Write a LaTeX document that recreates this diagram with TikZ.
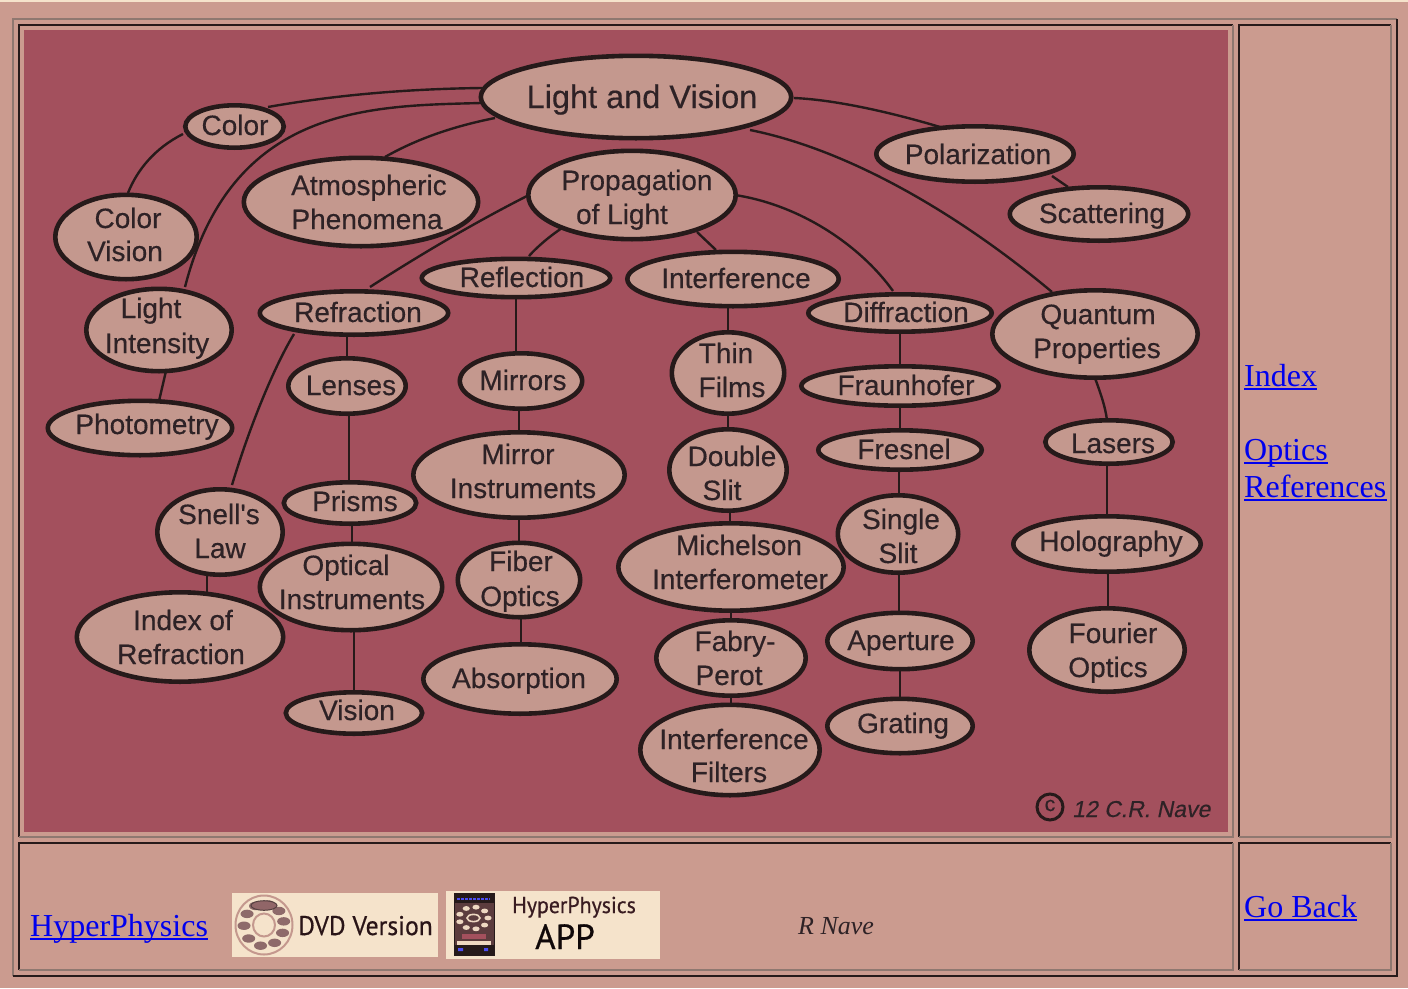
\documentclass[tikz,border=0pt]{standalone}
\usepackage{fontspec}
\usepackage{graphicx}
\usetikzlibrary{shapes.geometric}
\setmainfont{Liberation Sans}
\newfontfamily\bubf[FakeBold=0.4]{Liberation Sans}
\newfontfamily\bubi[FakeBold=0.4,FakeSlant=0.2]{Liberation Sans}
\newfontfamily\timesf{Liberation Serif}
\newfontfamily\iconf[FakeBold=0.6]{PT Sans}
\definecolor{pagebg}{HTML}{CB9B8F}
\definecolor{cream}{HTML}{F5E3CB}
\definecolor{plate}{HTML}{A3505D}
\definecolor{bubfill}{HTML}{C4988E}
\definecolor{ink}{HTML}{261A1A}
\definecolor{txt}{HTML}{2E2226}
\definecolor{edgegray}{HTML}{8F7870}
\definecolor{linkblue}{HTML}{0000EE}
\definecolor{blob}{HTML}{8E6A6A}
\definecolor{phone}{HTML}{5C3C3E}
\pgfdeclarelayer{edges}
\pgfdeclarelayer{base}
\pgfsetlayers{base,edges,main}
\newcounter{txtc}
\tikzset{
  bubble/.style={ellipse,draw=ink,fill=bubfill,line width=4.6pt,inner sep=0pt,outer sep=0pt},
  bubtext/.style={anchor=base,inner sep=0pt,text=txt,font=\bubf\fontsize{28}{34}\selectfont},
  conn/.style={draw=ink,line width=2.4pt},
  linktext/.style={anchor=base west,inner sep=0pt,text=linkblue,font=\timesf\fontsize{32}{36}\selectfont},
  linkline/.style={draw=linkblue,line width=2.4pt},
  lightline/.style={draw=edgegray,line width=2pt},
  darkline/.style={draw=ink,line width=2pt},
}
\newcommand{\bub}[6][0]{\node[bubble,rotate=#1,minimum width=#5pt-4.6pt,minimum height=#6pt-4.6pt] (#2) at (#3,#4) {};}
\newcommand{\txt}[3]{\stepcounter{txtc}\node[bubtext] (t\arabic{txtc}) at (#1,#2+9) {#3};}
\newcommand{\vl}[3]{\draw[conn] (#1.center -| #3,0) -- (#2.center -| #3,0);}
\newcommand{\cell}[4]{%
  \draw[darkline] (#1,#4) -- (#1,#2) -- (#3,#2);
  \draw[lightline] (#3,#2) -- (#3,#4) -- (#1,#4);}
\newcommand{\lnk}[4]{\node[linktext] (#1) at (#2,#3) {#4};
  \draw[linkline] ([yshift=-3.2pt]#1.base west) -- ([yshift=-3.2pt]#1.base east);}
\begin{document}
\begin{tikzpicture}[x=1pt,y=-1pt]
\useasboundingbox (0,0) rectangle (1408,988);
\begin{pgfonlayer}{base}
\fill[pagebg] (0,0) rectangle (1408,988);
\fill[cream] (0,0) rectangle (1408,2);
\draw[lightline] (13,976) -- (13,19) -- (1397,19);
\draw[darkline] (1397,19) -- (1397,976) -- (13,976);
\cell{19}{25}{1233}{837}
\cell{1239}{25}{1391}{837}
\cell{19}{843}{1233}{970}
\cell{1239}{843}{1391}{970}
\fill[plate] (24,30) rectangle (1228,832);
\end{pgfonlayer}

% bubbles
\bub{lv}{636}{97}{315}{87}
\stepcounter{txtc}\node[bubtext,font=\bubf\fontsize{32.5}{36}\selectfont] (t0) at (642,108) {Light and Vision};
\bub{color}{234.5}{126.5}{103}{47} \txt{235}{126}{Color}
\bub{cvis}{126}{237}{146}{89} \txt{128}{219}{Color} \txt{125}{252}{Vision}
\bub{atm}{361}{202}{239}{93} \txt{369}{186}{Atmospheric} \txt{367}{220}{Phenomena}
\bub{prop}{632}{195}{212}{93} \txt{637}{181}{Propagation} \txt{622}{215}{of Light}
\bub{pol}{975}{154}{202}{60} \txt{978}{155}{Polarization}
\bub{scat}{1099}{214}{183}{58} \txt{1102}{214}{Scattering}
\bub{lint}{159}{330}{150}{87} \txt{151}{309}{Light} \txt{157}{344}{Intensity}
\bub{refl}{516}{278}{193}{43} \txt{522}{278}{Reflection}
\bub{intf}{733}{279}{216}{59} \txt{736}{279}{Interference}
\bub{refr}{354}{313}{193}{48} \txt{358}{313}{Refraction}
\bub{diff}{900}{313}{188}{42} \txt{906}{313}{Diffraction}
\bub{qp}{1095}{334}{210}{92} \txt{1098}{315}{Quantum} \txt{1097}{349}{Properties}
\bub{lens}{347}{386}{122}{60} \txt{351}{386}{Lenses}
\bub{mirr}{521}{381}{127}{60} \txt{523}{381}{Mirrors}
\bub{thin}{728}{373}{117}{86} \txt{726}{354}{Thin} \txt{732}{388}{Films}
\bub{frau}{900}{386}{202}{44} \txt{906}{386}{Fraunhofer}
\bub{phot}{140}{428}{189}{59} \txt{147}{425}{Photometry}
\bub{las}{1109}{442}{132}{48} \txt{1113}{444}{Lasers}
\bub{fres}{900}{450}{168}{44} \txt{904}{450}{Fresnel}
\bub{mins}{519}{475}{216}{90} \txt{518}{455}{Mirror} \txt{523}{489}{Instruments}
\bub{dbl}{728}{470}{122}{86} \txt{732}{457}{Double} \txt{722}{491}{Slit}
\bub{holo}{1107}{544}{192}{60} \txt{1111}{542}{Holography}
\bub{single}{898}{534}{125}{82} \txt{901}{520}{Single} \txt{898}{554}{Slit}
\bub{prism}{350}{503}{137}{46} \txt{355}{502}{Prisms}
\bub{mich}{731}{567}{230}{92} \txt{739}{546}{Michelson} \txt{740}{580}{Interferometer}
\bub{idx}{180}{637}{211}{94} \txt{183}{621}{Index of} \txt{181}{655}{Refraction}
\bub{snell}{220}{532}{130}{90} \txt{219}{515}{Snell's} \txt{220}{549}{Law}
\bub{opt}{351}{587}{187}{91} \txt{346}{566}{Optical} \txt{352}{600}{Instruments}
\bub{fib}{519}{580}{127}{79} \txt{521}{562}{Fiber} \txt{520}{597}{Optics}
\bub{fab}{731}{658}{154}{80} \txt{735}{642}{Fabry-} \txt{729}{676}{Perot}
\bub{apt}{900}{641}{150}{61} \txt{901}{641}{Aperture}
\bub{four}{1107}{650}{160}{88} \txt{1113}{634}{Fourier} \txt{1108}{668}{Optics}
\bub{abs}{520}{679}{198}{74} \txt{519}{679}{Absorption}
\bub{vis}{354}{713}{141}{46} \txt{357}{711}{Vision}
\bub{filt}{730}{750}{184}{95} \txt{734}{740}{Interference} \txt{729}{773}{Filters}
\bub{grat}{900}{726}{150}{59} \txt{903}{724}{Grating}

% connectors
\begin{pgfonlayer}{edges}
\draw[conn] ([shift={(-154,-9)}]lv.center) .. controls (400,89) and (330,96) .. ([shift={(33.5,-19.5)}]color.center);
\draw[conn] ([shift={(-155,6)}]lv.center) .. controls (370,106) and (232,105) .. ([shift={(26,-43)}]lint.center);
\draw[conn] ([shift={(-141,21)}]lv.center) .. controls (450,127) and (415,140) .. ([shift={(24,-45)}]atm.center);
\draw[conn] ([shift={(-51.5,7.5)}]color.center) .. controls (155,148) and (137,170) .. ([shift={(2,-44)}]cvis.center);
\draw[conn] ([shift={(158,1)}]lv.center) .. controls (840,100) and (900,115) .. ([shift={(-35,-27)}]pol.center);
\draw[conn] ([shift={(114,33)}]lv.center) .. controls (850,150) and (960,215) .. ([shift={(-43,-42)}]qp.center);
\draw[conn] ([shift={(77,22)}]pol.center) -- ([shift={(-31,-27)}]scat.center);
\draw[conn] ([shift={(-105,1)}]prop.center) .. controls (470,225) and (415,258) .. ([shift={(16,-26)}]refr.center);
\draw[conn] ([shift={(-70,33)}]prop.center) .. controls (550,236) and (538,246) .. ([shift={(13,-22)}]refl.center);
\draw[conn] ([shift={(65,37)}]prop.center) -- ([shift={(-17,-29)}]intf.center);
\draw[conn] ([shift={(103,0)}]prop.center) .. controls (800,205) and (860,245) .. ([shift={(-7,-22)}]diff.center);
\draw[conn] ([shift={(-60,21)}]refr.center) .. controls (275,365) and (250,425) .. ([shift={(12,-47)}]snell.center);
\draw[conn] ([shift={(7,41)}]lint.center) -- ([shift={(19,-27)}]phot.center);
\draw[conn] ([shift={(0,44)}]qp.center) .. controls (1100,392) and (1105,405) .. ([shift={(-2,-22)}]las.center);
\vl{refl}{mirr}{516}
\vl{mirr}{mins}{519}
\vl{mins}{fib}{519}
\vl{fib}{abs}{521}
\vl{refr}{lens}{347}
\vl{lens}{prism}{349}
\vl{prism}{opt}{352}
\vl{opt}{vis}{354}
\vl{snell}{idx}{207}
\vl{intf}{thin}{728}
\vl{thin}{dbl}{728}
\vl{dbl}{mich}{730}
\vl{mich}{fab}{731}
\vl{fab}{filt}{731}
\vl{diff}{frau}{900}
\vl{frau}{fres}{900}
\vl{fres}{single}{899}
\vl{single}{apt}{899}
\vl{apt}{grat}{900}
\vl{las}{holo}{1107}
\vl{holo}{four}{1108}
\end{pgfonlayer}

% copyright
\draw[ink,line width=3pt] (1050,807) circle (13);
\node[inner sep=0pt,text=txt,font=\bubf\fontsize{21}{22}\selectfont] (cc) at (1050,805.5) {c};
\node[anchor=base west,inner sep=0pt,text=txt,font=\bubi\fontsize{23}{24}\selectfont] (crn) at (1072,817) {12 C.R. Nave};

% links
\lnk{index}{1244}{386}{Index}
\lnk{optics}{1244}{460}{Optics}
\lnk{refs}{1244}{497}{References}
\lnk{goback}{1244}{917}{Go Back}
\lnk{hp}{30}{936}{HyperPhysics}
\node[anchor=base west,inner sep=0pt,text=txt,font=\timesf\itshape\fontsize{26}{28}\selectfont] (rn) at (798,934) {R Nave};

% DVD icon
\fill[cream] (232,893) rectangle (438,957);
\draw[bubfill,line width=2pt] (264,925) ellipse (28.5 and 29.5);
\foreach \a in {22,58,100,140,178,212,245,282,318,350}
  \fill[blob] ({264+20*cos(\a)},{925+21*sin(\a)}) ellipse (6.5 and 4.2);
\fill[blob!85!plate,draw=black!40!blob,line width=1pt] (264,905.5) ellipse (13 and 4.8);
\fill[cream] (264,925) ellipse (10.5 and 11);
\draw[bubfill,line width=2pt] (264,925) ellipse (11 and 11.5);
\node[anchor=base west,inner sep=0pt,text=black!75!plate,font=\iconf\fontsize{27}{28}\selectfont] (dvd) at (298,935) {\scalebox{0.95}[1]{DVD Version}};

% APP icon
\fill[cream] (446,891) rectangle (660,959);
\fill[phone,draw=ink,line width=1pt] (454,893) rectangle (494.5,955);
\fill[ink] (454,893) rectangle (494.5,903);
\draw[linkblue!70!white,line width=1.2pt,dash pattern=on 3pt off 1pt] (457,899) -- (490,899);
\foreach \a in {0,40,...,320}
  \fill[cream!85!bubfill] ({473.5+14.5*cos(\a)},{918+11*sin(\a)}) ellipse (3.6 and 2.4);
\draw[cream!85!bubfill,line width=1.6pt] (473.5,918) ellipse (6.5 and 3.6);
\fill[plate] (462,934) rectangle (486,939);
\fill[cream!85!bubfill] (457,941) rectangle (491,945);
\fill[ink] (454,945) rectangle (494.5,955);
\fill[linkblue!70!white] (458,948) rectangle (463,951) (484,948) rectangle (488,951);
\node[anchor=base west,inner sep=0pt,text=black!65!plate,font=\iconf\fontsize{23}{24}\selectfont] (hpi) at (512,913) {\scalebox{0.95}[1]{HyperPhysics}};
\node[anchor=base west,inner sep=0pt,text=black!90!plate,font=\iconf\fontsize{35}{36}\selectfont] (app) at (535,949) {APP};
\end{tikzpicture}
\end{document}
